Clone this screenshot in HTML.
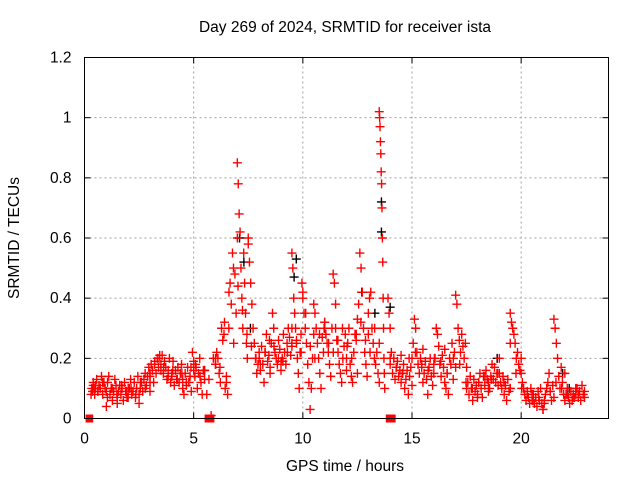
<!DOCTYPE html>
<html><head><meta charset="utf-8"><style>
body{margin:0;background:#fff;width:640px;height:480px;overflow:hidden}
text{font-family:"Liberation Sans",sans-serif;font-size:15.5px;fill:#000}
</style></head><body>
<svg id="chart" width="640" height="480" viewBox="0 0 640 480" xmlns="http://www.w3.org/2000/svg">
<text x="345" y="32" text-anchor="middle">Day 269 of 2024, SRMTID for receiver ista</text>
<text transform="translate(19,238) rotate(-90)" text-anchor="middle">SRMTID / TECUs</text>
<text x="345" y="471" text-anchor="middle">GPS time / hours</text>
<g id="grid"></g>
<g id="axes"></g>
<g id="black-series"></g>
<g id="red-series"></g>
<g id="gaps"></g>
<rect x="84.5" y="57.5" width="524" height="361" fill="none" stroke="#000" stroke-width="1"/>
</svg>
<script>
const xTicks=[0,5,10,15,20];
const yTicks=[0,0.2,0.4,0.6,0.8,1,1.2];
const yTickLabels=["0","0.2","0.4","0.6","0.8","1","1.2"];
// segments: [start hour, end hour, values...]
const redSegments=[
[0.3,0.5,0.08,0.1,0.09,0.12,0.1,0.08,0.11],
[0.5,1.0,0.1,0.13,0.09,0.11,0.1,0.14,0.08,0.12,0.1,0.09],
[1.0,1.5,0.04,0.12,0.14,0.08,0.1,0.06,0.09,0.13,0.11,0.07],
[1.5,2.0,0.05,0.09,0.11,0.08,0.1,0.06,0.12,0.09,0.07,0.1],
[2.0,2.5,0.07,0.1,0.13,0.08,0.09,0.12,0.07,0.1,0.14,0.08],
[2.5,3.0,0.05,0.1,0.12,0.09,0.13,0.15,0.11,0.14,0.17,0.12],
[3.0,3.5,0.14,0.18,0.16,0.12,0.19,0.15,0.2,0.17,0.21,0.16],
[3.5,4.0,0.18,0.21,0.15,0.19,0.17,0.13,0.16,0.2,0.12,0.15],
[4.0,4.5,0.14,0.19,0.11,0.16,0.13,0.17,0.12,0.15,0.18,0.1],
[4.5,5.0,0.13,0.08,0.15,0.11,0.17,0.12,0.14,0.09,0.22,0.16],
[5.0,5.5,0.19,0.14,0.17,0.1,0.15,0.2,0.12,0.08,0.16,0.13],
[5.5,6.0,0.16,0.08,0.13,0.01,0.2,0.18],
[6.0,6.5,0.18,0.22,0.2,0.15,0.12,0.3,0.26,0.28,0.1,0.14],
[6.5,7.0,0.12,0.08,0.3,0.45,0.38,0.55,0.25,0.48,0.35,0.6],
[7.0,7.5,0.85,0.78,0.68,0.62,0.5,0.4,0.3,0.55,0.45,0.35,0.25,0.2,0.58],
[7.5,8.0,0.6,0.52,0.45,0.38,0.3,0.25,0.2,0.15,0.18,0.22],
[8.0,8.5,0.2,0.16,0.24,0.18,0.12,0.22,0.28,0.19,0.21,0.15],
[8.5,9.0,0.17,0.25,0.35,0.3,0.22,0.2,0.18,0.26,0.23,0.19],
[9.0,9.5,0.16,0.2,0.28,0.22,0.18,0.25,0.3,0.27,0.21,0.24],
[9.5,10.0,0.55,0.5,0.4,0.35,0.3,0.25,0.2,0.15,0.1,0.22,0.28,0.45,0.42],
[10.0,10.5,0.4,0.35,0.3,0.25,0.18,0.12,0.03,0.1,0.2,0.28],
[10.5,11.0,0.38,0.35,0.3,0.25,0.2,0.15,0.1,0.27,0.22,0.32],
[11.0,11.5,0.32,0.28,0.25,0.22,0.18,0.14,0.3,0.48,0.45,0.38],
[11.5,12.0,0.3,0.26,0.22,0.18,0.15,0.12,0.2,0.24,0.28,0.16],
[12.0,12.5,0.2,0.25,0.3,0.18,0.14,0.12,0.22,0.28,0.26,0.15],
[12.5,13.0,0.33,0.38,0.55,0.5,0.42,0.3,0.22,0.18,0.14,0.28],
[13.0,13.5,0.35,0.4,0.42,0.3,0.25,0.2,0.18,0.22,0.15,0.12],
[13.5,13.75,1.02,1.0,0.97,0.92,0.88,0.82,0.78,0.7,0.6,0.52,0.4,0.3,0.2,0.15,0.1],
[13.9,14.0,0.4,0.35,0.3],
[14.0,14.5,0.18,0.22,0.15,0.2,0.13,0.17,0.19,0.14,0.16,0.21],
[14.5,15.0,0.12,0.15,0.18,0.1,0.13,0.16,0.08,0.14,0.17,0.11],
[15.0,15.5,0.2,0.25,0.33,0.3,0.22,0.18,0.15,0.2,0.17,0.23],
[15.5,16.0,0.12,0.15,0.19,0.13,0.08,0.17,0.2,0.14,0.11,0.18],
[16.0,16.5,0.15,0.2,0.3,0.28,0.24,0.18,0.14,0.21,0.17,0.23],
[16.5,17.0,0.12,0.1,0.15,0.08,0.2,0.18,0.25,0.13,0.22,0.17],
[17.0,17.5,0.41,0.38,0.3,0.26,0.22,0.28,0.24,0.2,0.25,0.17],
[17.5,18.0,0.1,0.12,0.08,0.14,0.1,0.06,0.13,0.09,0.11,0.07],
[18.0,18.5,0.08,0.12,0.15,0.1,0.07,0.14,0.11,0.16,0.13,0.09],
[18.5,19.0,0.12,0.1,0.14,0.18,0.13,0.17,0.12,0.15,0.11,0.2],
[19.0,19.5,0.15,0.12,0.1,0.14,0.08,0.11,0.06,0.13,0.09,0.1],
[19.5,20.0,0.35,0.32,0.3,0.28,0.25,0.2,0.22,0.18,0.16,0.2],
[20.0,20.5,0.15,0.12,0.1,0.08,0.06,0.09,0.07,0.05,0.1,0.08],
[20.5,21.0,0.06,0.08,0.05,0.07,0.04,0.09,0.06,0.1,0.05,0.03],
[21.0,21.5,0.03,0.05,0.08,0.1,0.12,0.15,0.09,0.06,0.11,0.07],
[21.5,22.0,0.33,0.3,0.25,0.2,0.14,0.1,0.17,0.12,0.08,0.15],
[22.0,22.5,0.06,0.08,0.1,0.07,0.05,0.09,0.06,0.08,0.07,0.1],
[22.5,22.9,0.08,0.1,0.07,0.09,0.06,0.11,0.08,0.07],
[0.4,3.0,0.11,0.09,0.12,0.07,0.1,0.08,0.11,0.09,0.1,0.08,0.12,0.1,0.09],
[3.0,5.5,0.15,0.18,0.2,0.17,0.14,0.16,0.13,0.15,0.12,0.17,0.18,0.14,0.16],
[6.0,9.5,0.2,0.17,0.32,0.42,0.5,0.44,0.36,0.28,0.24,0.2,0.18,0.22,0.26,0.24,0.2,0.19,0.22,0.25],
[9.5,13.5,0.3,0.26,0.22,0.35,0.24,0.2,0.28,0.3,0.25,0.22,0.26,0.3,0.24,0.2,0.28,0.32,0.26,0.22,0.3,0.25],
[14.0,19.5,0.2,0.17,0.15,0.2,0.22,0.18,0.16,0.2,0.19,0.15,0.2,0.18,0.12,0.1,0.12,0.14,0.13,0.15,0.12,0.1],
[19.5,22.9,0.25,0.15,0.1,0.08,0.06,0.07,0.06,0.09,0.12,0.1,0.08,0.07,0.08,0.09]
];
const blackTimes=[7.1,7.3,7.6,9.7,9.6,11.0,12.7,13.3,13.6,13.6,14.0,18.9,21.9,22.2];
const blackValues=[0.6,0.52,0.3,0.53,0.47,0.3,0.42,0.35,0.72,0.62,0.37,0.2,0.15,0.1];
const gapStarts=[0.05,5.5,13.8];
const gapEnds=[0.4,5.95,14.25];

const NS="http://www.w3.org/2000/svg";
const X0=84.5,X1=608.5,Y0=418.5,Y1=57.5;
const xs=h=>X0+(h/24)*(X1-X0);
const ys=v=>Y0-(v/1.2)*(Y0-Y1);
function mk(tag,attrs,parent){const e=document.createElementNS(NS,tag);for(const k in attrs)e.setAttribute(k,attrs[k]);parent.appendChild(e);return e;}
const grid=document.getElementById('grid'),axes=document.getElementById('axes');
xTicks.forEach((t,i)=>{
  if(t>0){const g=mk('line',{x1:xs(t),x2:xs(t),y1:Y0,y2:Y1,stroke:'#a0a0a0','stroke-dasharray':'2,3'},grid);
  
  }
  mk('line',{x1:xs(t),x2:xs(t),y1:Y0,y2:Y0-6,stroke:'#000'},axes);
  mk('line',{x1:xs(t),x2:xs(t),y1:Y1,y2:Y1+6,stroke:'#000'},axes);
  const tx=mk('text',{x:xs(t),y:Y0+25,'text-anchor':'middle'},axes);tx.textContent=String(t);
  
  
});
yTicks.forEach((t,i)=>{
  if(t>0&&t<1.2){const g=mk('line',{x1:X0,x2:X1,y1:ys(t),y2:ys(t),stroke:'#a0a0a0','stroke-dasharray':'2,3'},grid);
  
  }
  mk('line',{x1:X0,x2:X0+6,y1:ys(t),y2:ys(t),stroke:'#000'},axes);
  mk('line',{x1:X1,x2:X1-6,y1:ys(t),y2:ys(t),stroke:'#000'},axes);
  const tx=mk('text',{x:X0-13,y:ys(t)+5,'text-anchor':'end'},axes);tx.textContent=yTickLabels[i];
  
  
});
function cross(x,y,color,parent){
  return mk('path',{d:`M${x-4.5},${y}H${x+4.5}M${x},${y-4.5}V${y+4.5}`,stroke:color,'stroke-width':1.4,fill:'none'},parent);
}
const bs=document.getElementById('black-series');
blackTimes.forEach((t,i)=>{
  const p=cross(xs(t),ys(blackValues[i]),'#000',bs);
  
  
});
const rs=document.getElementById('red-series');
redSegments.forEach(seg=>{
  const a=seg[0],b=seg[1],vals=seg.slice(2),n=vals.length;
  vals.forEach((v,j)=>{
    const t=a+(b-a)*(n>1?j/(n-1):0);
    const p=cross(xs(t),ys(v),'#f00',rs);
    
    
  });
});
const gp=document.getElementById('gaps');
gapStarts.forEach((s,i)=>{
  const r=mk('rect',{x:xs(s),y:Y0-4,width:xs(gapEnds[i])-xs(s),height:8,fill:'#f00'},gp);
  
  
});
</script>
</body></html>
